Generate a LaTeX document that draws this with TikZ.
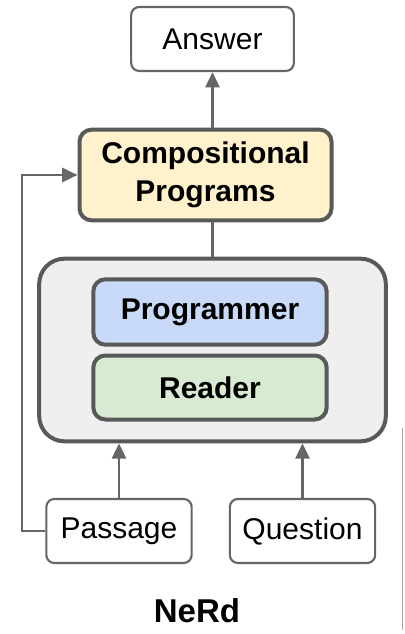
\documentclass[tikz,border=0pt]{standalone}
\usepackage{fontspec}
\setmainfont{Liberation Sans}
\usetikzlibrary{arrows.meta}
\definecolor{edgegray}{HTML}{666666}
\definecolor{darkedge}{HTML}{595959}
\definecolor{compfill}{HTML}{FFF2CC}
\definecolor{enginefill}{HTML}{EFEFEF}
\definecolor{progfill}{HTML}{C9DAF8}
\definecolor{readfill}{HTML}{D9EAD3}

\begin{document}
\begin{tikzpicture}[x=0.75pt,y=-0.75pt]
\tikzstyle{box}=[draw=edgegray,line width=1.6pt,rounded corners=6pt,fill=white,
  font=\fontsize{22.5}{27}\selectfont,inner sep=0pt]
\tikzstyle{bbox}=[draw=darkedge,line width=3pt,rounded corners=9pt,inner sep=0pt,
  font=\fontsize{22.5}{28.5}\selectfont\bfseries,align=center]
\tikzstyle{link}=[draw=edgegray,line width=2.1pt]
\tikzstyle{arr}=[link,-{Triangle[length=11.5pt,width=10.5pt]}]
\useasboundingbox (0,0) rectangle (404,634);

\path (212.5,39) node[box,minimum width=122pt,minimum height=48pt](ans){Answer};
\path (205.5,175) node[bbox,fill=compfill,minimum width=189pt,minimum height=68pt](comp){Compositional\\Programs};
\path (212.5,350) node[bbox,fill=enginefill,rounded corners=19pt,minimum width=260pt,minimum height=137pt](eng){};
\path (210,312) node[bbox,fill=progfill,minimum width=175pt,minimum height=49pt](pg){Programmer};
\path (210,387.5) node[bbox,fill=readfill,minimum width=175pt,minimum height=48pt](rd){Reader};
\path (119,531) node[box,minimum width=109pt,minimum height=48pt](ps){Passage};
\path (302.5,531) node[box,minimum width=109pt,minimum height=48pt](qs){Question};
\path (197,611) node[font=\fontsize{24.75}{30}\selectfont\bfseries](nerd){NeRd};

\coordinate (lt) at (22,531);
\draw[arr] (ans.south |- comp.north) -- (ans.south);
\draw[link] (eng.north) -- (eng.north |- comp.south);
\draw[arr] (ps.north) -- (ps.north |- eng.south);
\draw[arr] (qs.north) -- (qs.north |- eng.south);
\draw[arr] (ps.west) -- (lt) |- (comp.west);

\draw[black!35,line width=0.6pt] (402.5,428) -- (402.5,630);
\end{tikzpicture}
\end{document}
